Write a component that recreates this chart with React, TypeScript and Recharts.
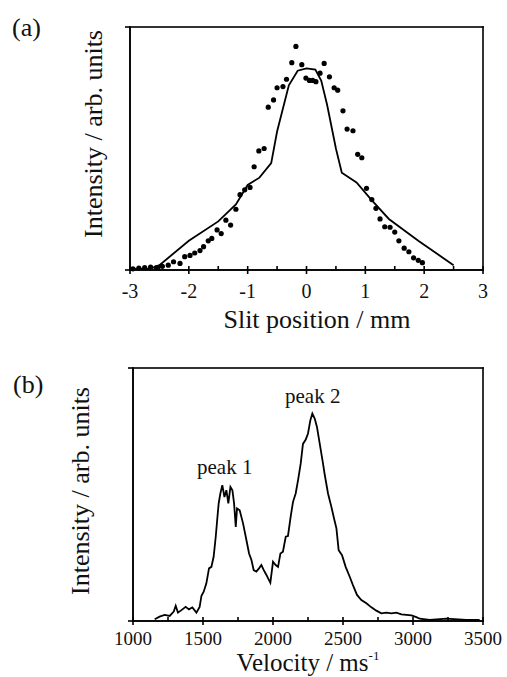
import React from 'react';
import {
  ComposedChart,
  LineChart,
  Line,
  Scatter,
  XAxis,
  YAxis,
  ReferenceDot,
  Label,
} from 'recharts';

const FONT = '"Liberation Serif", "Times New Roman", Times, serif';

// ---------- Panel (a): slit scan ----------
const slitTicks = [-3, -2.5, -2, -1.5, -1, -0.5, 0, 0.5, 1, 1.5, 2, 2.5, 3];
const slitLabels = [-3, -2, -1, 0, 1, 2, 3];

// simulated profile (solid line)
const simPosition = [-3.0, -2.65, -2.5, -2.0, -1.5, -1.2, -1.0, -0.8, -0.6, -0.5, -0.3, -0.15, 0.0, 0.15, 0.25, 0.35, 0.5, 0.6, 0.85, 1.1, 1.4, 1.9, 2.5];
const simIntensity = [0.005, 0.006, 0.02, 0.12, 0.2, 0.27, 0.35, 0.38, 0.44, 0.57, 0.76, 0.82, 0.83, 0.825, 0.78, 0.68, 0.5, 0.4, 0.36, 0.29, 0.21, 0.12, 0.02];

// measured points (dots)
const expPosition = [
  -2.95, -2.85, -2.75, -2.65, -2.55, -2.45, -2.35, -2.26, -2.15, -2.07, -1.98, -1.9, -1.81, -1.75,
  -1.67, -1.61, -1.52, -1.45, -1.37, -1.29, -1.2, -1.13, -1.05, -0.96, -0.89, -0.81, -0.72, -0.65,
  -0.56, -0.5, -0.4, -0.34, -0.25, -0.18, -0.08, -0.01, 0.05, 0.105, 0.16, 0.23, 0.3, 0.39, 0.47,
  0.53, 0.62, 0.69, 0.79, 0.87, 0.94, 1.02, 1.11, 1.18, 1.25, 1.33, 1.42, 1.5, 1.57, 1.66, 1.74,
  1.82, 1.9, 1.97,
];
const expIntensity = [
  0.005, 0.008, 0.01, 0.012, 0.01, 0.015, 0.02, 0.034, 0.027, 0.055, 0.06, 0.07, 0.08, 0.096,
  0.12, 0.13, 0.165, 0.15, 0.205, 0.185, 0.25, 0.31, 0.33, 0.34, 0.425, 0.49, 0.5, 0.67,
  0.7, 0.75, 0.755, 0.785, 0.853, 0.92, 0.845, 0.79, 0.78, 0.78, 0.775, 0.81, 0.85, 0.795, 0.75,
  0.74, 0.655, 0.58, 0.573, 0.476, 0.462, 0.336, 0.29, 0.254, 0.21, 0.178, 0.176, 0.156, 0.12, 0.09, 0.075,
  0.05, 0.04, 0.03,
];

// ---------- Panel (b): velocity distribution ----------
const velTicks = [1000, 1250, 1500, 1750, 2000, 2250, 2500, 2750, 3000, 3250, 3500];
const velLabels = [1000, 1500, 2000, 2500, 3000, 3500];

const velocity = [
  1155, 1190, 1226, 1262, 1291, 1305, 1321, 1346, 1376, 1400, 1424, 1453, 1476, 1489, 1505, 1524,
  1543, 1560, 1576, 1591, 1603, 1612, 1624, 1638, 1653, 1667, 1681, 1696, 1710, 1722, 1734, 1743,
  1762, 1786, 1810, 1829, 1846, 1862, 1881, 1900, 1917, 1934, 1953, 1981, 2000, 2019, 2036, 2053,
  2071, 2091, 2107, 2126, 2143, 2162, 2179, 2198, 2214, 2234, 2250, 2267, 2281, 2298, 2314, 2334,
  2357, 2369, 2393, 2417, 2436, 2453, 2469, 2493, 2519, 2548, 2571, 2600, 2631, 2667, 2703, 2738,
  2774, 2810, 2846, 2881, 2917, 2953, 2989, 3024, 3048, 3119, 3239, 3381, 3476,
];
const velIntensity = [
  0.007, 0.017, 0.024, 0.02, 0.037, 0.06, 0.033, 0.043, 0.056, 0.046, 0.054, 0.033, 0.056, 0.1, 0.116, 0.149,
  0.208, 0.214, 0.254, 0.333, 0.41, 0.465, 0.504, 0.537, 0.49, 0.517, 0.465, 0.53, 0.517, 0.465, 0.372, 0.445,
  0.438, 0.386, 0.32, 0.267, 0.241, 0.201, 0.195, 0.208, 0.221, 0.201, 0.182, 0.151, 0.234, 0.221, 0.214, 0.267,
  0.274, 0.333, 0.336, 0.412, 0.471, 0.504, 0.557, 0.623, 0.7, 0.717, 0.741, 0.794, 0.82, 0.8, 0.767, 0.7,
  0.623, 0.58, 0.504, 0.451, 0.405, 0.366, 0.28, 0.26, 0.214, 0.175, 0.142, 0.103, 0.083, 0.07, 0.054, 0.041,
  0.03, 0.033, 0.03, 0.033, 0.026, 0.024, 0.022, 0.015, 0.009, 0.004, 0.009, 0.004, 0.004,
];

const peakNames = ['peak 1', 'peak 2'];
const peakVelocity = [1655, 2284];
const peakHeight = [0.537, 0.82];

const simData = simPosition.map((x, i) => ({ x, y: simIntensity[i] }));
const expData = expPosition.map((x, i) => ({ x, y: expIntensity[i] }));
const velData = velocity.map((x, i) => ({ x, y: velIntensity[i] }));

// plot boxes (page pixels) shared by the charts and the frame overlay
const BOX_A = { left: 130, top: 27, width: 353, height: 243, min: -3, max: 3 };
const BOX_B = { left: 133, top: 368, width: 350, height: 253, min: 1000, max: 3500 };

function SlitTick(props: any) {
  const { x, y, payload } = props;
  const v = payload.value;
  if (slitLabels.indexOf(v) < 0) return null;
  return (
    <text x={x} y={y + 28} textAnchor="middle" fontFamily={FONT} fontSize={20} fill="#111">
      {String(v)}
    </text>
  );
}

function VelTick(props: any) {
  const { x, y, payload } = props;
  const v = payload.value;
  if (velLabels.indexOf(v) < 0) return null;
  return (
    <text x={x} y={y + 24} textAnchor="middle" fontFamily={FONT} fontSize={19} fill="#111">
      {String(v)}
    </text>
  );
}

function BlackDot(props: any) {
  const { cx, cy } = props;
  if (cx == null || cy == null) return null;
  return <circle cx={cx} cy={cy} r={2.6} fill="#000" />;
}

function TextsA() {
  return (
    <g>
      <text x={317} y={328} textAnchor="middle" fontFamily={FONT} fontSize={26} fill="#111">
        Slit position / mm
      </text>
      <text transform="translate(102, 134) rotate(-90)" textAnchor="middle" fontFamily={FONT} fontSize={26} fill="#111">
        Intensity / arb. units
      </text>
      <text x={12} y={36} fontFamily={FONT} fontSize={26} fill="#111">
        (a)
      </text>
    </g>
  );
}

function TextsB() {
  return (
    <g>
      <text x={308} y={331} textAnchor="middle" fontFamily={FONT} fontSize={25} fill="#111">
        Velocity / ms
        <tspan fontSize={13} dy={-11}>-1</tspan>
      </text>
      <text transform="translate(89, 151) rotate(-90)" textAnchor="middle" fontFamily={FONT} fontSize={26} fill="#111">
        Intensity / arb. units
      </text>
      <text x={13} y={53} fontFamily={FONT} fontSize={26} fill="#111">
        (b)
      </text>
    </g>
  );
}

// frame and tick marks drawn as thin filled rectangles
function FrameBox({ box, ticks, majors }: { box: any; ticks: number[]; majors: number[] }) {
  const { left, top, width, height, min, max } = box;
  const bottom = top + height;
  const t = 1.6;
  const px = (v: number) => left + ((v - min) / (max - min)) * width;
  return (
    <g fill="#000">
      <rect x={left - t / 2} y={top - t / 2} width={width + t} height={t} />
      <rect x={left - t / 2} y={bottom - t / 2} width={width + t} height={t} />
      <rect x={left - t / 2} y={top - t / 2} width={t} height={height + t} />
      <rect x={left + width - t / 2} y={top - t / 2} width={t} height={height + t} />
      {ticks.map((v) => (
        <rect
          key={v}
          x={px(v) - t / 2}
          y={bottom - 4}
          width={t}
          height={majors.indexOf(v) >= 0 ? 8 : 4}
        />
      ))}
      <rect x={left - 5} y={top - t / 2} width={5} height={t} />
      <rect x={left - 5} y={bottom - t / 2} width={5} height={t} />
    </g>
  );
}

export default function App() {
  return (
    <div>
      <div style={{ position: 'absolute', left: 0, top: 0, width: 507, height: 677, background: '#fff' }}>
        <div style={{ position: 'absolute', left: 0, top: 0 }}>
          <ComposedChart width={507} height={340} margin={{ top: 27, right: 24, bottom: 0, left: 0 }} data={simData}>
            <XAxis
              type="number"
              dataKey="x"
              domain={[-3, 3]}
              ticks={slitTicks}
              interval={0}
              height={70}
              tickSize={0}
              tickMargin={0}
              tickLine={false}
              axisLine={{ stroke: '#000', strokeWidth: 1.5 }}
              tick={<SlitTick />}
            >
              <Label content={() => <TextsA />} />
            </XAxis>
            <YAxis
              type="number"
              dataKey="y"
              domain={[0, 1]}
              ticks={[0, 1]}
              tick={false}
              tickSize={5}
              width={130}
              axisLine={{ stroke: '#000', strokeWidth: 1.5 }}
              tickLine={{ stroke: '#000', strokeWidth: 1.5 }}
            />
            <Line dataKey="y" type="linear" stroke="#000" strokeWidth={1.8} dot={false} activeDot={false} isAnimationActive={false} />
            <Scatter data={expData} dataKey="y" fill="#000" shape={<BlackDot />} isAnimationActive={false} />
          </ComposedChart>
        </div>
        <div style={{ position: 'absolute', left: 0, top: 340 }}>
          <LineChart width={507} height={337} margin={{ top: 28, right: 24, bottom: 0, left: 0 }} data={velData}>
            <XAxis
              type="number"
              dataKey="x"
              domain={[1000, 3500]}
              ticks={velTicks}
              interval={0}
              height={56}
              tickSize={0}
              tickMargin={0}
              tickLine={false}
              axisLine={{ stroke: '#000', strokeWidth: 1.5 }}
              tick={<VelTick />}
            >
              <Label content={() => <TextsB />} />
            </XAxis>
            <YAxis
              type="number"
              dataKey="y"
              domain={[0, 1]}
              ticks={[0, 1]}
              tick={false}
              tickSize={5}
              width={133}
              axisLine={{ stroke: '#000', strokeWidth: 1.5 }}
              tickLine={{ stroke: '#000', strokeWidth: 1.5 }}
            />
            <Line dataKey="y" type="linear" stroke="#000" strokeWidth={1.8} dot={false} activeDot={false} isAnimationActive={false} />
            {peakNames.map((name, i) => (
              <ReferenceDot
                key={name}
                x={peakVelocity[i]}
                y={peakHeight[i]}
                r={1}
                fill="none"
                stroke="none"
                label={{ value: name, position: 'top', offset: 10, fontSize: 21, fontFamily: FONT, fill: '#111' }}
              />
            ))}
          </LineChart>
        </div>
        <svg
          width={507}
          height={677}
          style={{ position: 'absolute', left: 0, top: 0, pointerEvents: 'none', zIndex: 5 }}
        >
          <FrameBox box={BOX_A} ticks={slitTicks} majors={slitLabels} />
          <FrameBox box={BOX_B} ticks={velTicks} majors={velLabels} />
        </svg>
      </div>
    </div>
  );
}
